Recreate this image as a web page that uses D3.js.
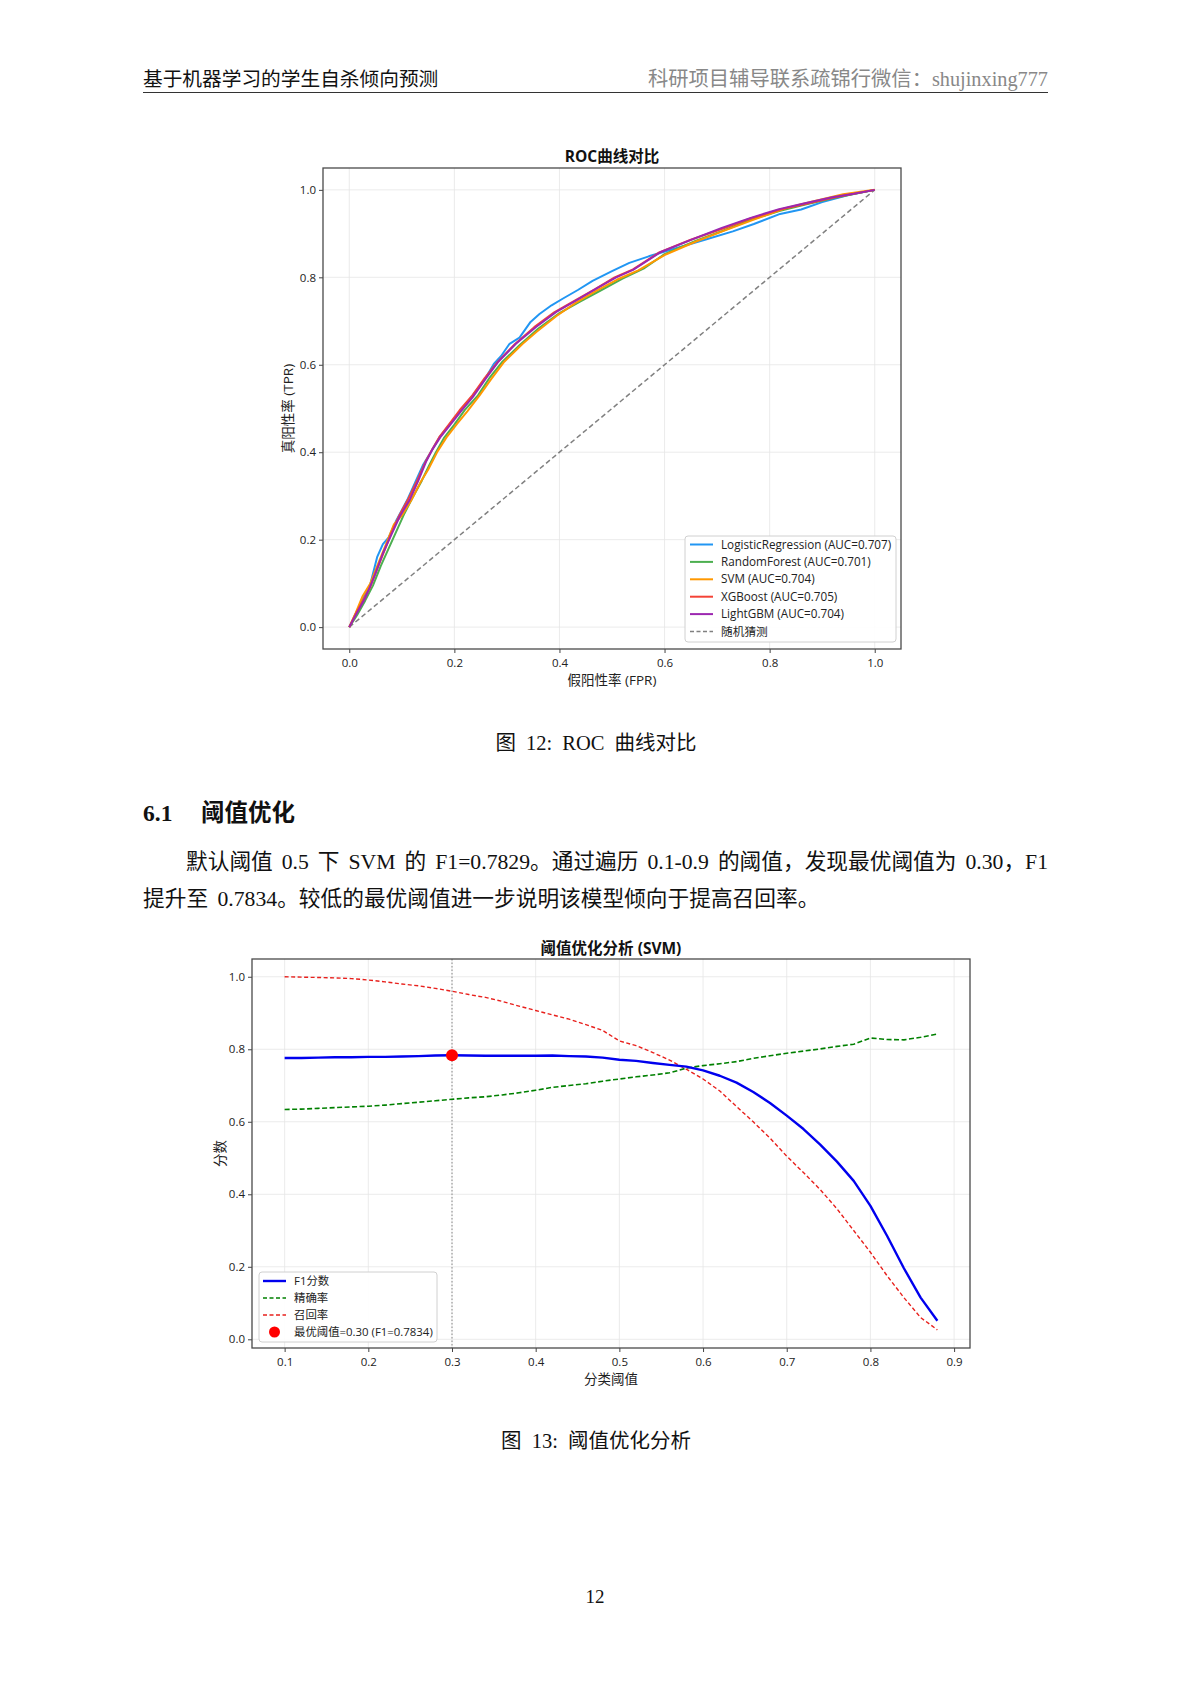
<!DOCTYPE html>
<html><head><meta charset="utf-8">
<script src="https://cdn.jsdelivr.net/npm/d3@7"></script>
<style>
body{margin:0;background:#fff;}
svg{display:block;}
.serif{font-family:"Liberation Serif","DejaVu Serif","Noto Sans CJK SC",serif;}
.sans{font-family:"Open Sans","Noto Sans CJK SC",sans-serif;}
</style></head>
<body>
<svg id="page" width="1191" height="1684"></svg>
<script>
// ---------------- DATA ----------------
const rocModels = ["LogisticRegression","RandomForest","SVM","XGBoost","LightGBM"];
const rocAUC = ["0.707","0.701","0.704","0.705","0.704"];
const rocColors = ["#2196F3","#4CAF50","#FF9800","#F44336","#9C27B0"];
const rocLR = [[0,0],[0.012,0.03],[0.025,0.062],[0.04,0.098],[0.053,0.16],[0.064,0.19],[0.075,0.205],[0.09,0.245],[0.11,0.29],[0.125,0.33],[0.14,0.37],[0.155,0.40],[0.172,0.435],[0.19,0.462],[0.21,0.492],[0.235,0.53],[0.258,0.567],[0.275,0.602],[0.289,0.62],[0.305,0.648],[0.324,0.662],[0.345,0.698],[0.362,0.716],[0.385,0.736],[0.406,0.751],[0.435,0.771],[0.463,0.792],[0.5,0.814],[0.533,0.833],[0.57,0.848],[0.62,0.866],[0.68,0.887],[0.73,0.905],[0.77,0.922],[0.82,0.945],[0.86,0.955],[0.9,0.972],[0.95,0.988],[1,1]];
const rocRF = [[0,0],[0.015,0.028],[0.03,0.06],[0.045,0.095],[0.06,0.14],[0.075,0.18],[0.09,0.22],[0.105,0.26],[0.12,0.295],[0.138,0.335],[0.152,0.37],[0.165,0.40],[0.18,0.432],[0.2,0.463],[0.22,0.497],[0.245,0.53],[0.268,0.572],[0.29,0.605],[0.325,0.646],[0.36,0.683],[0.4,0.718],[0.44,0.745],[0.48,0.771],[0.52,0.797],[0.56,0.82],[0.6,0.853],[0.66,0.884],[0.71,0.906],[0.76,0.93],[0.82,0.952],[0.87,0.967],[0.92,0.981],[1,1]];
const rocSVM = [[0,0],[0.012,0.032],[0.025,0.07],[0.04,0.1],[0.055,0.145],[0.07,0.19],[0.085,0.235],[0.1,0.255],[0.118,0.29],[0.135,0.33],[0.15,0.36],[0.168,0.402],[0.185,0.434],[0.205,0.465],[0.225,0.494],[0.248,0.53],[0.27,0.567],[0.295,0.607],[0.33,0.648],[0.356,0.675],[0.395,0.712],[0.43,0.741],[0.47,0.769],[0.51,0.795],[0.55,0.816],[0.6,0.851],[0.66,0.882],[0.71,0.905],[0.77,0.932],[0.83,0.958],[0.88,0.973],[0.94,0.99],[1,1]];
const rocXGB = [[0,0],[0.013,0.032],[0.028,0.065],[0.04,0.092],[0.052,0.13],[0.066,0.172],[0.08,0.215],[0.095,0.255],[0.113,0.295],[0.13,0.337],[0.145,0.378],[0.158,0.407],[0.172,0.436],[0.188,0.461],[0.21,0.496],[0.233,0.528],[0.258,0.57],[0.282,0.606],[0.315,0.647],[0.352,0.686],[0.39,0.72],[0.43,0.747],[0.468,0.773],[0.505,0.8],[0.54,0.818],[0.59,0.857],[0.65,0.886],[0.71,0.911],[0.765,0.935],[0.82,0.955],[0.87,0.968],[0.92,0.982],[1,1]];
const rocLGBM = [[0,0],[0.014,0.031],[0.03,0.066],[0.037,0.085],[0.05,0.123],[0.064,0.169],[0.08,0.211],[0.096,0.253],[0.115,0.291],[0.131,0.334],[0.146,0.378],[0.158,0.406],[0.173,0.434],[0.189,0.458],[0.212,0.493],[0.235,0.526],[0.26,0.569],[0.283,0.606],[0.317,0.648],[0.356,0.687],[0.394,0.721],[0.432,0.747],[0.47,0.774],[0.508,0.8],[0.54,0.817],[0.593,0.858],[0.655,0.888],[0.709,0.913],[0.764,0.936],[0.818,0.956],[0.865,0.969],[0.919,0.983],[0.96,0.991],[1,1]];
const rocTicks = [0,0.2,0.4,0.6,0.8,1.0];

const thresholds = [0.10,0.12,0.14,0.16,0.18,0.20,0.22,0.24,0.26,0.28,0.30,0.32,0.34,0.36,0.38,0.40,0.42,0.44,0.46,0.48,0.50,0.52,0.54,0.56,0.58,0.60,0.62,0.64,0.66,0.68,0.70,0.72,0.74,0.76,0.78,0.80,0.82,0.84,0.86,0.88];
const f1Scores = [0.776,0.776,0.777,0.778,0.778,0.779,0.779,0.780,0.781,0.783,0.7834,0.783,0.782,0.782,0.782,0.782,0.783,0.781,0.780,0.777,0.771,0.768,0.762,0.757,0.752,0.742,0.727,0.708,0.682,0.652,0.617,0.580,0.537,0.490,0.437,0.368,0.285,0.196,0.115,0.051];
const precisionScores = [0.634,0.635,0.637,0.639,0.641,0.643,0.646,0.650,0.654,0.658,0.662,0.666,0.669,0.674,0.680,0.687,0.695,0.700,0.705,0.712,0.718,0.724,0.729,0.735,0.748,0.755,0.760,0.766,0.775,0.782,0.789,0.795,0.801,0.808,0.814,0.831,0.827,0.826,0.833,0.842];
const recallScores = [1.000,0.999,0.998,0.997,0.995,0.991,0.986,0.980,0.975,0.968,0.960,0.951,0.943,0.932,0.919,0.907,0.895,0.883,0.868,0.852,0.823,0.810,0.791,0.770,0.745,0.718,0.685,0.642,0.600,0.555,0.505,0.460,0.413,0.360,0.300,0.240,0.175,0.115,0.060,0.026];
const bestThreshold = 0.30, bestF1 = 0.7834;
const thrTicksX = [0.1,0.2,0.3,0.4,0.5,0.6,0.7,0.8,0.9];
const thrTicksY = [0,0.2,0.4,0.6,0.8,1.0];

// ---------------- PAGE ----------------
const svg = d3.select("#page");
svg.append("rect").attr("width",1191).attr("height",1684).attr("fill","#fff");

svg.append("text").attr("class","serif").attr("x",143).attr("y",86).attr("font-size",19.7).attr("fill","#111")
  .text("基于机器学习的学生自杀倾向预测");
svg.append("text").attr("class","serif").attr("x",1048).attr("y",86).attr("font-size",20.3).attr("fill","#888")
  .attr("text-anchor","end").text("科研项目辅导联系疏锦行微信：shujinxing777");
svg.append("line").attr("x1",143).attr("x2",1048).attr("y1",92.5).attr("y2",92.5).attr("stroke","#333").attr("stroke-width",1);

function justify(sel, width){
  const n = sel.node();
  const natural = n.getComputedTextLength();
  const spaces = (sel.text().match(/ /g)||[]).length;
  if(spaces>0 && natural<width) sel.attr("word-spacing", (width-natural)/spaces);
}

// ---------------- ROC CHART ----------------
(function(){
  const L=323,R=901,T=168,B=649;
  const x=d3.scaleLinear().domain([-0.05,1.05]).range([L,R]);
  const y=d3.scaleLinear().domain([-0.05,1.05]).range([B,T]);
  const g=svg.append("g").attr("class","sans");
  g.selectAll(".gx").data(rocTicks).enter().append("line").attr("x1",d=>x(d)).attr("x2",d=>x(d)).attr("y1",T).attr("y2",B).attr("stroke","#e6e6e6").attr("stroke-width",0.8);
  g.selectAll(".gy").data(rocTicks).enter().append("line").attr("y1",d=>y(d)).attr("y2",d=>y(d)).attr("x1",L).attr("x2",R).attr("stroke","#e6e6e6").attr("stroke-width",0.8);
  const line=d3.line().x(d=>x(d[0])).y(d=>y(d[1]));
  g.append("path").attr("d",line([[0,0],[1,1]])).attr("stroke","#808080").attr("stroke-width",1.5).attr("stroke-dasharray","5,3").attr("fill","none");
  const series=[rocLR,rocRF,rocSVM,rocXGB,rocLGBM];
  series.forEach((s,i)=>{
    g.append("path").attr("d",line(s)).attr("stroke",rocColors[i]).attr("stroke-width",2).attr("fill","none").attr("stroke-linejoin","round");
  });
  const ax=g.append("g").attr("transform",`translate(0,${B})`).call(d3.axisBottom(x).tickValues(rocTicks).tickFormat(d3.format(".1f")).tickSize(4).tickSizeOuter(0));
  const ay=g.append("g").attr("transform",`translate(${L},0)`).call(d3.axisLeft(y).tickValues(rocTicks).tickFormat(d3.format(".1f")).tickSize(4).tickSizeOuter(0));
  [ax,ay].forEach(a=>{a.select(".domain").remove();a.selectAll("text").attr("font-size",11.5).attr("fill","#222").attr("font-family",'"Open Sans","Noto Sans CJK SC",sans-serif');a.selectAll("line").attr("stroke","#444");});
  ax.selectAll("text").attr("dy","0.95em");
  g.append("rect").attr("x",L).attr("y",T).attr("width",R-L).attr("height",B-T).attr("fill","none").attr("stroke","#4a4a4a").attr("stroke-width",1.3);
  g.append("text").attr("x",(L+R)/2).attr("y",161.5).attr("text-anchor","middle").attr("font-size",15.5).attr("font-weight","bold").attr("fill","#111").text("ROC曲线对比");
  g.append("text").attr("x",(L+R)/2).attr("y",684.5).attr("text-anchor","middle").attr("font-size",13.5).attr("fill","#222").text("假阳性率 (FPR)");
  g.append("text").attr("transform",`translate(293,${(T+B)/2}) rotate(-90)`).attr("text-anchor","middle").attr("font-size",13.5).attr("fill","#222").text("真阳性率 (TPR)");
  const lg=g.append("g");
  lg.append("rect").attr("x",685).attr("y",536).attr("width",211).attr("height",106).attr("rx",3).attr("fill","#fff").attr("fill-opacity",0.9).attr("stroke","#d0d0d0");
  const labels=rocModels.map((m,i)=>`${m} (AUC=${rocAUC[i]})`).concat(["随机猜测"]);
  labels.forEach((t,i)=>{
    const yy=544.5+i*17.4;
    const ln=lg.append("line").attr("x1",690).attr("x2",713).attr("y1",yy).attr("y2",yy).attr("stroke-width",i<5?2:1.5).attr("stroke",i<5?rocColors[i]:"#808080");
    if(i==5) ln.attr("stroke-dasharray","4,2.5");
    lg.append("text").attr("x",721).attr("y",yy+4).attr("font-size",11.7).attr("fill","#222").text(t);
  });
})();

// ---------------- TEXT ----------------
svg.append("text").attr("class","serif").attr("x",596).attr("y",750).attr("text-anchor","middle").attr("font-size",20.5).attr("word-spacing",5).attr("fill","#111").text("图 12: ROC 曲线对比");
svg.append("text").attr("class","serif").attr("x",143).attr("y",821).attr("font-size",23.5).attr("font-weight","bold").attr("fill","#111").text("6.1");
svg.append("text").attr("class","serif").attr("x",201).attr("y",821).attr("font-size",23.5).attr("font-weight","bold").attr("fill","#111").text("阈值优化");
const para1 = svg.append("text").attr("class","serif").attr("x",186).attr("y",869).attr("font-size",21.7).attr("fill","#111")
  .text("默认阈值 0.5 下 SVM 的 F1=0.7829。通过遍历 0.1-0.9 的阈值，发现最优阈值为 0.30，F1");
justify(para1, 862);
svg.append("text").attr("class","serif").attr("x",143).attr("y",906).attr("font-size",21.7).attr("word-spacing",4).attr("fill","#111")
  .text("提升至 0.7834。较低的最优阈值进一步说明该模型倾向于提高召回率。");

// ---------------- THRESHOLD CHART ----------------
(function(){
  const L=252,R=970,T=959,B=1348;
  const x=d3.scaleLinear().domain([0.061,0.919]).range([L,R]);
  const y=d3.scaleLinear().domain([-0.024,1.049]).range([B,T]);
  const g=svg.append("g").attr("class","sans");
  g.selectAll(".gx").data(thrTicksX).enter().append("line").attr("x1",d=>x(d)).attr("x2",d=>x(d)).attr("y1",T).attr("y2",B).attr("stroke","#e6e6e6").attr("stroke-width",0.8);
  g.selectAll(".gy").data(thrTicksY).enter().append("line").attr("y1",d=>y(d)).attr("y2",d=>y(d)).attr("x1",L).attr("x2",R).attr("stroke","#e6e6e6").attr("stroke-width",0.8);
  const mk=arr=>d3.line().x((d,i)=>x(thresholds[i])).y(d=>y(d))(arr);
  g.append("line").attr("x1",x(bestThreshold)).attr("x2",x(bestThreshold)).attr("y1",T).attr("y2",B).attr("stroke","#888").attr("stroke-width",1).attr("stroke-dasharray","1.5,2");
  g.append("path").attr("d",mk(precisionScores)).attr("stroke","#008000").attr("stroke-width",1.6).attr("stroke-dasharray","5,2.5").attr("fill","none");
  g.append("path").attr("d",mk(recallScores)).attr("stroke","#e8201c").attr("stroke-width",1.4).attr("stroke-dasharray","4,2.5").attr("fill","none");
  g.append("path").attr("d",mk(f1Scores)).attr("stroke","#0000ee").attr("stroke-width",2.4).attr("fill","none").attr("stroke-linejoin","round");
  g.append("circle").attr("cx",x(bestThreshold)).attr("cy",y(bestF1)).attr("r",6).attr("fill","#ff0000");
  const ax=g.append("g").attr("transform",`translate(0,${B})`).call(d3.axisBottom(x).tickValues(thrTicksX).tickFormat(d3.format(".1f")).tickSize(4).tickSizeOuter(0));
  const ay=g.append("g").attr("transform",`translate(${L},0)`).call(d3.axisLeft(y).tickValues(thrTicksY).tickFormat(d3.format(".1f")).tickSize(4).tickSizeOuter(0));
  [ax,ay].forEach(a=>{a.select(".domain").remove();a.selectAll("text").attr("font-size",11.5).attr("fill","#222").attr("font-family",'"Open Sans","Noto Sans CJK SC",sans-serif');a.selectAll("line").attr("stroke","#444");});
  ax.selectAll("text").attr("dy","0.95em");
  g.append("rect").attr("x",L).attr("y",T).attr("width",R-L).attr("height",B-T).attr("fill","none").attr("stroke","#4a4a4a").attr("stroke-width",1.3);
  g.append("text").attr("x",(L+R)/2).attr("y",953.5).attr("text-anchor","middle").attr("font-size",15.5).attr("font-weight","bold").attr("fill","#111").text("阈值优化分析 (SVM)");
  g.append("text").attr("x",(L+R)/2).attr("y",1383.5).attr("text-anchor","middle").attr("font-size",13.5).attr("fill","#222").text("分类阈值");
  g.append("text").attr("transform",`translate(225,${(T+B)/2}) rotate(-90)`).attr("text-anchor","middle").attr("font-size",13.5).attr("fill","#222").text("分数");
  const lg=g.append("g");
  lg.append("rect").attr("x",259).attr("y",1272).attr("width",178).attr("height",70).attr("rx",3).attr("fill","#fff").attr("fill-opacity",0.9).attr("stroke","#d0d0d0");
  const items=[{t:"F1分数",c:"#0000ee",w:2.4,d:null},{t:"精确率",c:"#008000",w:1.6,d:"4,2.5"},{t:"召回率",c:"#e8201c",w:1.4,d:"4,2.5"},{t:`最优阈值=${bestThreshold.toFixed(2)} (F1=${bestF1})`,c:"#ff0000",m:true}];
  items.forEach((it,i)=>{
    const yy=1281+i*17;
    if(it.m){lg.append("circle").attr("cx",274.5).attr("cy",yy).attr("r",5.5).attr("fill",it.c);}
    else{const l=lg.append("line").attr("x1",263).attr("x2",286).attr("y1",yy).attr("y2",yy).attr("stroke",it.c).attr("stroke-width",it.w); if(it.d) l.attr("stroke-dasharray",it.d);}
    lg.append("text").attr("x",294).attr("y",yy+4).attr("font-size",11.4).attr("fill","#222").text(it.t);
  });
})();

svg.append("text").attr("class","serif").attr("x",596).attr("y",1448).attr("text-anchor","middle").attr("font-size",20.5).attr("word-spacing",5).attr("fill","#111").text("图 13: 阈值优化分析");
svg.append("text").attr("class","serif").attr("x",595).attr("y",1603).attr("text-anchor","middle").attr("font-size",19).attr("fill","#111").text("12");
</script>
</body></html>
